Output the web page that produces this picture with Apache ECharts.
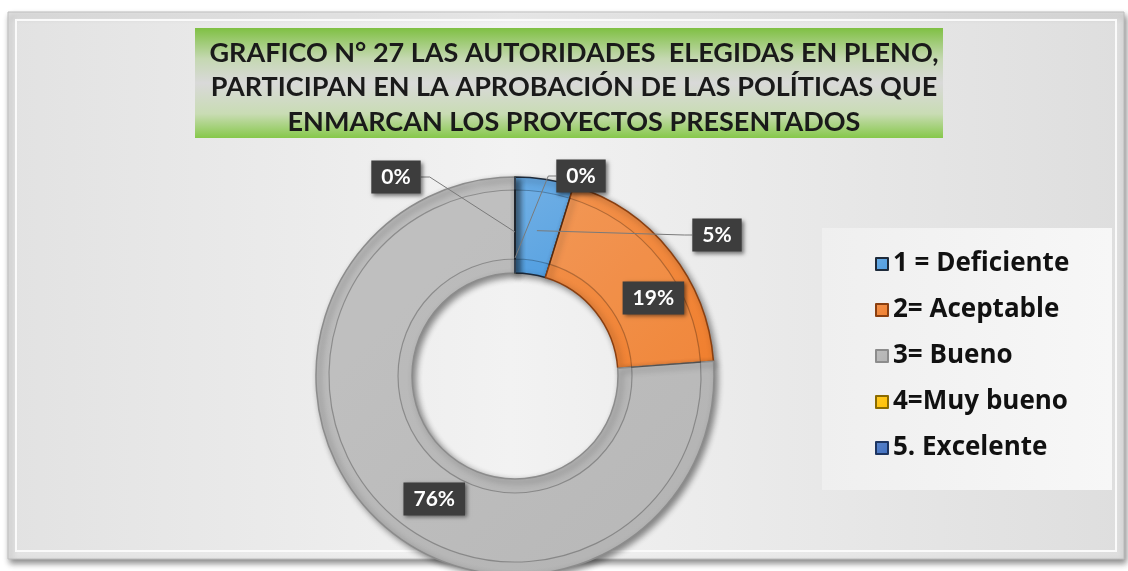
<!DOCTYPE html>
<html>
<head>
<meta charset="utf-8">
<script src="https://cdn.jsdelivr.net/npm/echarts@6/dist/echarts.min.js"></script>
<style>
  html, body { margin: 0; padding: 0; background: #fff; }
  #chart { width: 1128px; height: 571px; }
</style>
</head>
<body>
<div id="chart"></div>
<script>
const categories = ['1 = Deficiente', '2= Aceptable', '3= Bueno', '4=Muy bueno', '5. Excelente']
const counts = [1, 4, 16, 0, 0]
const colors = ['#4f9de0', '#f07f2e', '#b3b3b3', '#ffc000', '#3f6fc0']
const edges = ['#1e2a3a', '#8a3f10', '#8c8c8c', '#8a6a00', '#1d3560']
const titleText = 'GRAFICO N° 27 LAS AUTORIDADES  ELEGIDAS EN PLENO,\nPARTICIPAN EN LA APROBACIÓN DE LAS POLÍTICAS QUE\nENMARCAN LOS PROYECTOS PRESENTADOS'

const myChart = echarts.init(document.getElementById('chart'))

const total = counts.reduce((a, b) => a + b, 0)
const fontFamily = 'Lato, "Open Sans", sans-serif'
const center = [515, 376]
const radius = [103, 199]

// etiquetas: dentro para los sectores grandes, fuera para los pequeños
const insideIdx = [1, 2]
// posición de las etiquetas externas y radio donde termina la línea guía
const outsidePos = {
  0: { x: 717, y: 235, side: 'left', r: 147 },
  3: { x: 396, y: 177, side: 'right', r: 144 },
  4: { x: 581, y: 176, side: 'left', r: 118 }
}

// ángulo medio de cada sector (desde arriba, sentido horario)
const midAngles = []
let acc = 0
counts.forEach(v => {
  midAngles.push((acc + v / 2) / total * 2 * Math.PI)
  acc += v
})

const pct = p => Math.round(p.value / total * 100) + '%'

const labelBox = {
  color: '#fff',
  fontFamily,
  fontSize: 21,
  fontWeight: 'bold',
  lineHeight: 23,
  backgroundColor: '#3d3d3d',
  padding: [5, 10],
  shadowBlur: 4,
  shadowColor: 'rgba(0,0,0,0.5)',
  shadowOffsetX: 2,
  shadowOffsetY: 2
}

const data = categories.map((name, i) => ({
  name,
  value: counts[i],
  itemStyle: {
    color: new echarts.graphic.LinearGradient(0, 0, 1, 1, [
      { offset: 0, color: echarts.color.lift(colors[i], 0.15) },
      { offset: 1, color: colors[i] }
    ]),
    borderColor: edges[i],
    borderWidth: 1.5
  },
  label: { show: insideIdx.includes(i) }
}))

const option = {
  animation: false,
  color: colors,
  graphic: [
    {
      type: 'rect',
      z: -10,
      shape: { x: 8, y: 12, width: 1116, height: 547 },
      style: {
        fill: new echarts.graphic.LinearGradient(0, 0, 1, 0, [
          { offset: 0, color: '#e2e2e2' },
          { offset: 0.45, color: '#f2f2f2' },
          { offset: 1, color: '#dedede' }
        ]),
        stroke: '#bdbdbd',
        lineWidth: 1,
        shadowBlur: 6,
        shadowColor: 'rgba(0,0,0,0.45)',
        shadowOffsetX: 2,
        shadowOffsetY: 4
      }
    },
    {
      type: 'rect',
      z: -9,
      shape: { x: 16, y: 20, width: 1100, height: 531 },
      style: { fill: 'none', stroke: '#fafafa', lineWidth: 2 }
    },
    {
      type: 'rect',
      z: -8,
      shape: { x: 195, y: 28, width: 748, height: 110 },
      style: {
        fill: new echarts.graphic.LinearGradient(0, 0, 0, 1, [
          { offset: 0, color: '#7fc043' },
          { offset: 0.28, color: '#c5d8b2' },
          { offset: 0.5, color: '#d9d9d9' },
          { offset: 0.78, color: '#c9dcb4' },
          { offset: 1, color: '#86c84a' }
        ])
      }
    },
    {
      type: 'rect',
      z: -8,
      shape: { x: 822, y: 228, width: 290, height: 262 },
      style: {
        fill: new echarts.graphic.LinearGradient(0, 0, 1, 0, [
          { offset: 0, color: '#efefef' },
          { offset: 1, color: '#f7f7f7' }
        ])
      }
    }
  ],
  title: {
    text: titleText,
    left: 569,
    top: 31,
    textAlign: 'center',
    textStyle: {
      fontFamily,
      fontSize: 27,
      fontWeight: 'bold',
      color: '#1a1a1a',
      lineHeight: 34.5
    }
  },
  legend: {
    orient: 'vertical',
    left: 870,
    top: 246,
    icon: 'rect',
    itemWidth: 12,
    itemHeight: 12,
    itemGap: 20,
    data: categories,
    textStyle: {
      fontFamily: '"Open Sans", Lato, sans-serif',
      fontSize: 26,
      fontWeight: 'bold',
      color: '#111',
      lineHeight: 26
    }
  },
  series: [
    {
      name: 'Respuestas',
      type: 'pie',
      center,
      radius,
      startAngle: 90,
      clockwise: true,
      avoidLabelOverlap: false,
      itemStyle: {
        shadowBlur: 6,
        shadowColor: 'rgba(0,0,0,0.45)',
        shadowOffsetX: 3,
        shadowOffsetY: 3
      },
      label: Object.assign({ position: 'inside', formatter: pct }, labelBox),
      labelLine: { show: false },
      labelLayout: function (params) {
        if (params.dataIndex === 1) return { dx: 18, dy: 18 }
        if (params.dataIndex === 2) return { dx: 24, dy: 10 }
        return {}
      },
      data
    },
    {
      // panel interior en relieve
      type: 'pie',
      silent: true,
      center,
      radius: [117, 186],
      startAngle: 90,
      clockwise: true,
      label: { show: false },
      labelLine: { show: false },
      itemStyle: {
        color: 'rgba(255,255,255,0.06)',
        borderColor: 'rgba(0,0,0,0.26)',
        borderWidth: 1.2
      },
      data: categories.map((name, i) => ({ name, value: counts[i] }))
    },
    {
      // capa transparente con las etiquetas externas y sus líneas guía
      type: 'pie',
      silent: true,
      z: 5,
      center,
      radius,
      startAngle: 90,
      clockwise: true,
      avoidLabelOverlap: false,
      itemStyle: { color: 'rgba(0,0,0,0)', borderWidth: 0 },
      label: Object.assign({ position: 'outside', formatter: pct }, labelBox),
      labelLine: {
        show: true,
        length: 10,
        length2: 10,
        lineStyle: { color: '#7a7a7a', width: 1 }
      },
      labelLayout: function (params) {
        const p = outsidePos[params.dataIndex]
        if (!p) return {}
        const w = params.labelRect.width
        const a = midAngles[params.dataIndex]
        const anchor = [center[0] + p.r * Math.sin(a), center[1] - p.r * Math.cos(a)]
        const edgeX = p.side === 'left' ? p.x - w / 2 : p.x + w / 2
        const elbowX = p.side === 'left' ? edgeX - 8 : edgeX + 9
        return {
          x: p.x,
          y: p.y,
          align: 'center',
          verticalAlign: 'middle',
          labelLinePoints: [anchor, [elbowX, p.y], [edgeX, p.y]]
        }
      },
      data: categories.map((name, i) => ({
        name,
        value: counts[i],
        label: { show: !insideIdx.includes(i) },
        labelLine: { show: !insideIdx.includes(i) }
      }))
    }
  ]
}

myChart.setOption(option)
window.addEventListener('resize', () => myChart.resize())
</script>
</body>
</html>
